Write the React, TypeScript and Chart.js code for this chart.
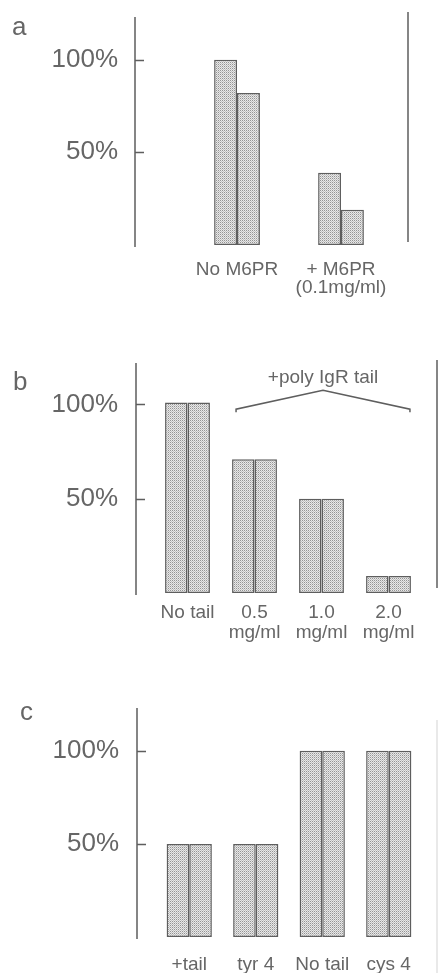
import React, { useEffect, useRef } from "react";
import { Chart, registerables } from "chart.js";
Chart.register(...registerables);

// ---------- data ----------
const yTicks = [50, 100];

const panelALabels = [["No M6PR"], ["+ M6PR", "(0.1mg/ml)"]];
const panelALeft = [100, 39];
const panelARight = [82, 19];

const panelBLabels = [["No tail"], ["0.5", "mg/ml"], ["1.0", "mg/ml"], ["2.0", "mg/ml"]];
const panelBLeft = [101, 71, 50, 9];
const panelBRight = [101, 71, 50, 9];
const panelBBracketText = "+poly IgR tail";
const panelBBracketFrom = 1;
const panelBBracketTo = 3;
const panelBBracketEnds = 97.5;
const panelBBracketApex = 107.5;
const panelBBracketTextAt = 114;

const panelCLabels = ["+tail", "tyr 4", "No tail", "cys 4"];
const panelCLeft = [50, 50, 100, 100];
const panelCRight = [50, 50, 100, 100];

// ---------- styling ----------
const INK = "#5e5e5e";
const TEXT = "#666666";
const FONT = "'Liberation Sans', Arial, Helvetica, sans-serif";

function makePattern(): CanvasPattern | string {
  const c = document.createElement("canvas");
  c.width = 2;
  c.height = 2;
  const g = c.getContext("2d");
  if (!g) return "#d0d0d0";
  g.fillStyle = "#e8e8e8";
  g.fillRect(0, 0, 2, 2);
  g.fillStyle = "#949494";
  g.fillRect(0, 0, 1, 1);
  g.fillStyle = "#c2c2c2";
  g.fillRect(1, 1, 1, 1);
  const p = g.createPattern(c, "repeat");
  return p || "#d0d0d0";
}

type PanelCfg = {
  width: number;
  height: number;
  labels: any[];
  left: number[];
  right: number[];
  yMax: number;
  padTop: number;
  padRight: number;
  yWidth: number;
  xHeight: number;
  axisGap: number;
  yLabelPad: number;
  xLabelPad: number;
  lineHeight: number;
  catPct: number;
  letter: string;
  letterPos: [number, number];
  rightLine?: { x: number; top: number; bottom: number; color: string };
  bracket?: boolean;
};

function framePlugin(cfg: PanelCfg) {
  return {
    id: "frame" + cfg.letter,
    afterDraw(chart: any) {
      const { ctx, chartArea } = chart;
      const y = chart.scales.y;
      ctx.save();
      ctx.strokeStyle = INK;
      ctx.lineWidth = 1.5;
      const ax = chartArea.left - cfg.axisGap;
      ctx.beginPath();
      ctx.moveTo(ax, chartArea.top);
      ctx.lineTo(ax, chartArea.bottom + 2);
      for (const t of yTicks) {
        const py = Math.round(y.getPixelForValue(t)) + 0.5;
        ctx.moveTo(ax, py);
        ctx.lineTo(ax + 9, py);
      }
      ctx.stroke();

      if (cfg.rightLine) {
        ctx.strokeStyle = cfg.rightLine.color;
        ctx.beginPath();
        ctx.moveTo(cfg.rightLine.x, cfg.rightLine.top);
        ctx.lineTo(cfg.rightLine.x, cfg.rightLine.bottom);
        ctx.stroke();
      }

      ctx.fillStyle = TEXT;
      ctx.font = `26px ${FONT}`;
      ctx.textAlign = "left";
      ctx.textBaseline = "alphabetic";
      ctx.fillText(cfg.letter, cfg.letterPos[0], cfg.letterPos[1]);

      if (cfg.bracket) {
        const m0 = chart.getDatasetMeta(0).data[panelBBracketFrom];
        const m1 = chart.getDatasetMeta(1).data[panelBBracketTo];
        const x0 = m0.x - m0.width / 2 + 4;
        const x1 = m1.x + m1.width / 2 - 1;
        const xm = (x0 + x1) / 2;
        const yE = y.getPixelForValue(panelBBracketEnds);
        const yA = y.getPixelForValue(panelBBracketApex);
        ctx.strokeStyle = INK;
        ctx.lineWidth = 1.5;
        ctx.beginPath();
        ctx.moveTo(x0, yE + 3);
        ctx.lineTo(x0, yE);
        ctx.lineTo(xm, yA);
        ctx.lineTo(x1, yE);
        ctx.lineTo(x1, yE + 3);
        ctx.stroke();
        ctx.font = `19px ${FONT}`;
        ctx.textAlign = "center";
        ctx.textBaseline = "middle";
        ctx.fillText(panelBBracketText, xm, y.getPixelForValue(panelBBracketTextAt));
      }
      ctx.restore();
    },
  };
}

function Panel({ cfg, top }: { cfg: PanelCfg; top: number }) {
  const ref = useRef<HTMLCanvasElement | null>(null);
  useEffect(() => {
    if (!ref.current) return;
    const pattern = makePattern();
    const ds = (data: number[]) => ({
      data,
      backgroundColor: pattern as any,
      borderColor: INK,
      borderWidth: 1.5,
      borderSkipped: false as any,
      barPercentage: 1,
      categoryPercentage: cfg.catPct,
    });
    const chart = new Chart(ref.current, {
      type: "bar",
      data: {
        labels: cfg.labels,
        datasets: [ds(cfg.left), ds(cfg.right)],
      },
      options: {
        animation: false,
        responsive: false,
        layout: { padding: { top: cfg.padTop, right: cfg.padRight, left: 0, bottom: 0 } },
        plugins: { legend: { display: false }, tooltip: { enabled: false }, title: { display: false } },
        scales: {
          x: {
            type: "category",
            offset: true,
            grid: { display: false, drawTicks: false },
            border: { display: false },
            ticks: {
              color: TEXT,
              font: { family: FONT, size: 19, lineHeight: cfg.lineHeight / 19 },
              padding: cfg.xLabelPad,
              maxRotation: 0,
              autoSkip: false,
            },
            afterFit: (s: any) => {
              s.height = cfg.xHeight;
              s.paddingLeft = 0;
              s.paddingRight = 0;
            },
          },
          y: {
            min: 0,
            max: cfg.yMax,
            grid: { display: false, drawTicks: false },
            border: { display: false },
            afterBuildTicks: (s: any) => {
              s.ticks = yTicks.map((v) => ({ value: v }));
            },
            ticks: {
              color: TEXT,
              font: { family: FONT, size: 26 },
              padding: cfg.yLabelPad,
              callback: (v: any) => `${v}%`,
            },
            afterFit: (s: any) => {
              s.width = cfg.yWidth;
              s.paddingTop = 0;
              s.paddingBottom = 0;
            },
          },
        },
      },
      plugins: [framePlugin(cfg) as any],
    });
    return () => chart.destroy();
  }, [cfg]);
  return (
    <canvas
      ref={ref}
      width={cfg.width}
      height={cfg.height}
      style={{ position: "absolute", left: 0, top, width: cfg.width, height: cfg.height }}
    />
  );
}

const cfgA: PanelCfg = {
  width: 438,
  height: 300,
  labels: panelALabels,
  left: panelALeft,
  right: panelARight,
  yMax: 123,
  padTop: 17,
  padRight: 45,
  yWidth: 185,
  xHeight: 55,
  axisGap: 50,
  yLabelPad: 67,
  xLabelPad: 16,
  lineHeight: 18,
  catPct: 0.44,
  letter: "a",
  letterPos: [12, 35],
  rightLine: { x: 408, top: 12, bottom: 242, color: INK },
};

const cfgB: PanelCfg = {
  width: 438,
  height: 345,
  labels: panelBLabels,
  left: panelBLeft,
  right: panelBRight,
  yMax: 122,
  padTop: 63,
  padRight: 16,
  yWidth: 154,
  xHeight: 52,
  axisGap: 18,
  yLabelPad: 36,
  xLabelPad: 10,
  lineHeight: 20,
  catPct: 0.67,
  letter: "b",
  letterPos: [13, 90],
  rightLine: { x: 437, top: 60, bottom: 288, color: INK },
  bracket: true,
};

const cfgC: PanelCfg = {
  width: 438,
  height: 328,
  labels: panelCLabels,
  left: panelCLeft,
  right: panelCRight,
  yMax: 123,
  padTop: 63,
  padRight: 16,
  yWidth: 156,
  xHeight: 36,
  axisGap: 19,
  yLabelPad: 37,
  xLabelPad: 18,
  lineHeight: 20,
  catPct: 0.68,
  letter: "c",
  letterPos: [20, 75],
  rightLine: { x: 437, top: 75, bottom: 328, color: "#e2e2e2" },
};

export default function App() {
  return (
    <div style={{ position: "absolute", left: 0, top: 0, width: 438, height: 973, background: "#fff" }}>
      <Panel cfg={cfgA} top={0} />
      <Panel cfg={cfgB} top={300} />
      <Panel cfg={cfgC} top={645} />
    </div>
  );
}
